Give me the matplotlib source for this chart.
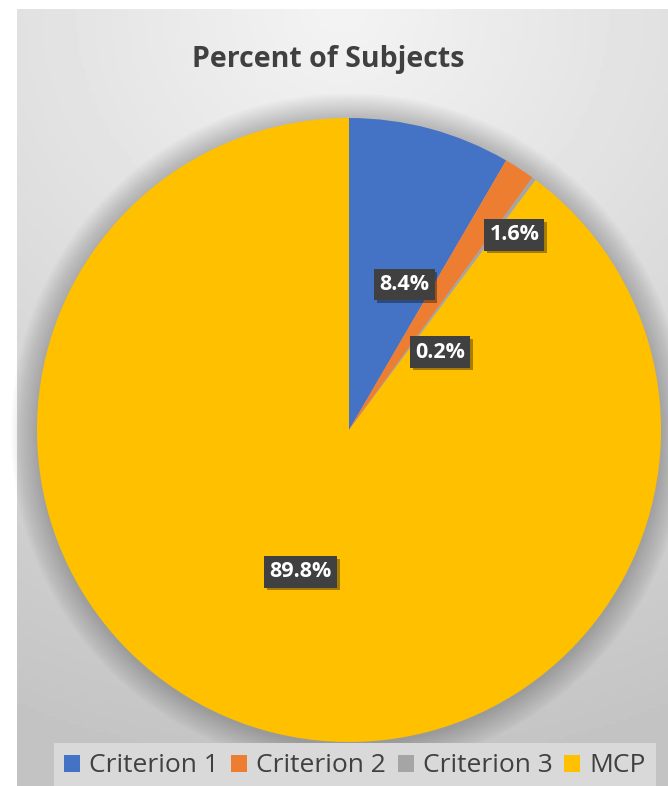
import numpy as np
import matplotlib.pyplot as plt
from matplotlib.patches import Circle
import matplotlib.patheffects as pe

# Données
categories = ['Criterion 1', 'Criterion 2', 'Criterion 3', 'MCP']
values = [8.4, 1.6, 0.2, 89.8]
colors = ['#4472C4', '#ED7D31', '#A5A5A5', '#FFC000']
labels = ['8.4%', '1.6%', '0.2%', '89.8%']
# position des étiquettes (coord. du camembert, rayon = 1)
label_pos = [(0.178, 0.466), (0.530, 0.625), (0.292, 0.250), (-0.155, -0.455)]

W, H = 668, 786
fig = plt.figure(figsize=(W / 100, H / 100), dpi=100)
fig.patch.set_facecolor('white')

# Fond dégradé de la zone du graphique
bg = fig.add_axes([17 / W, 0, 1 - 17 / W, 1 - 9 / H])
yy, xx = np.mgrid[0:1:200j, 0:1:200j]
r = np.sqrt((xx - 0.5) ** 2 * 0.6 + yy ** 2)
grad = 0.955 - 0.19 * np.clip(r, 0, 1)
bg.imshow(grad, cmap='gray', vmin=0, vmax=1, aspect='auto', extent=[0, 1, 1, 0])
bg.axis('off')

# Camembert
R = 312
cx, cy = 349, 430
ax = fig.add_axes([(cx - R) / W, 1 - (cy + R) / H, 2 * R / W, 2 * R / H])
ax.axis('off')

# ombre autour du camembert
for k in range(14):
    ax.add_patch(Circle((0.0, -0.005), 1.0 + 0.006 * (k + 1), color='black',
                        alpha=0.016, lw=0, zorder=0, clip_on=False))

wedges, _ = ax.pie(values, colors=colors, startangle=90, counterclock=False,
                   radius=1, wedgeprops=dict(linewidth=0))
ax.set_xlim(-1, 1)
ax.set_ylim(-1, 1)

for lab, (x, y) in zip(labels, label_pos):
    t = ax.text(x, y, lab, ha='center', va='center', color='white',
                fontsize=15.5, fontweight='bold', family=['Open Sans', 'DejaVu Sans'],
                bbox=dict(boxstyle='square,pad=0.24', facecolor='#404040', edgecolor='none'),
                zorder=5)
    t.get_bbox_patch().set_path_effects([
        pe.SimplePatchShadow(offset=(2, -2), shadow_rgbFace='black', alpha=0.35),
        pe.Normal()])

# Titre
fig.text(328 / W, 1 - 60 / H, 'Percent of Subjects', ha='center', va='center',
         fontsize=20.5, fontweight='bold', color='#404040',
         family=['Open Sans', 'DejaVu Sans'])

# Légende
leg = fig.legend(wedges, categories, loc='center', ncol=4,
                 bbox_to_anchor=(355 / W, 1 - 766 / H),
                 frameon=True, fancybox=False, facecolor='#d9d9d9', edgecolor='none',
                 framealpha=1, handlelength=0.6, handleheight=0.6,
                 handletextpad=0.35, columnspacing=0.45, borderpad=0.4,
                 prop=dict(family=['Open Sans', 'DejaVu Sans'], size=19))
for txt in leg.get_texts():
    txt.set_color('#404040')

fig.savefig('out.png', dpi=100)
